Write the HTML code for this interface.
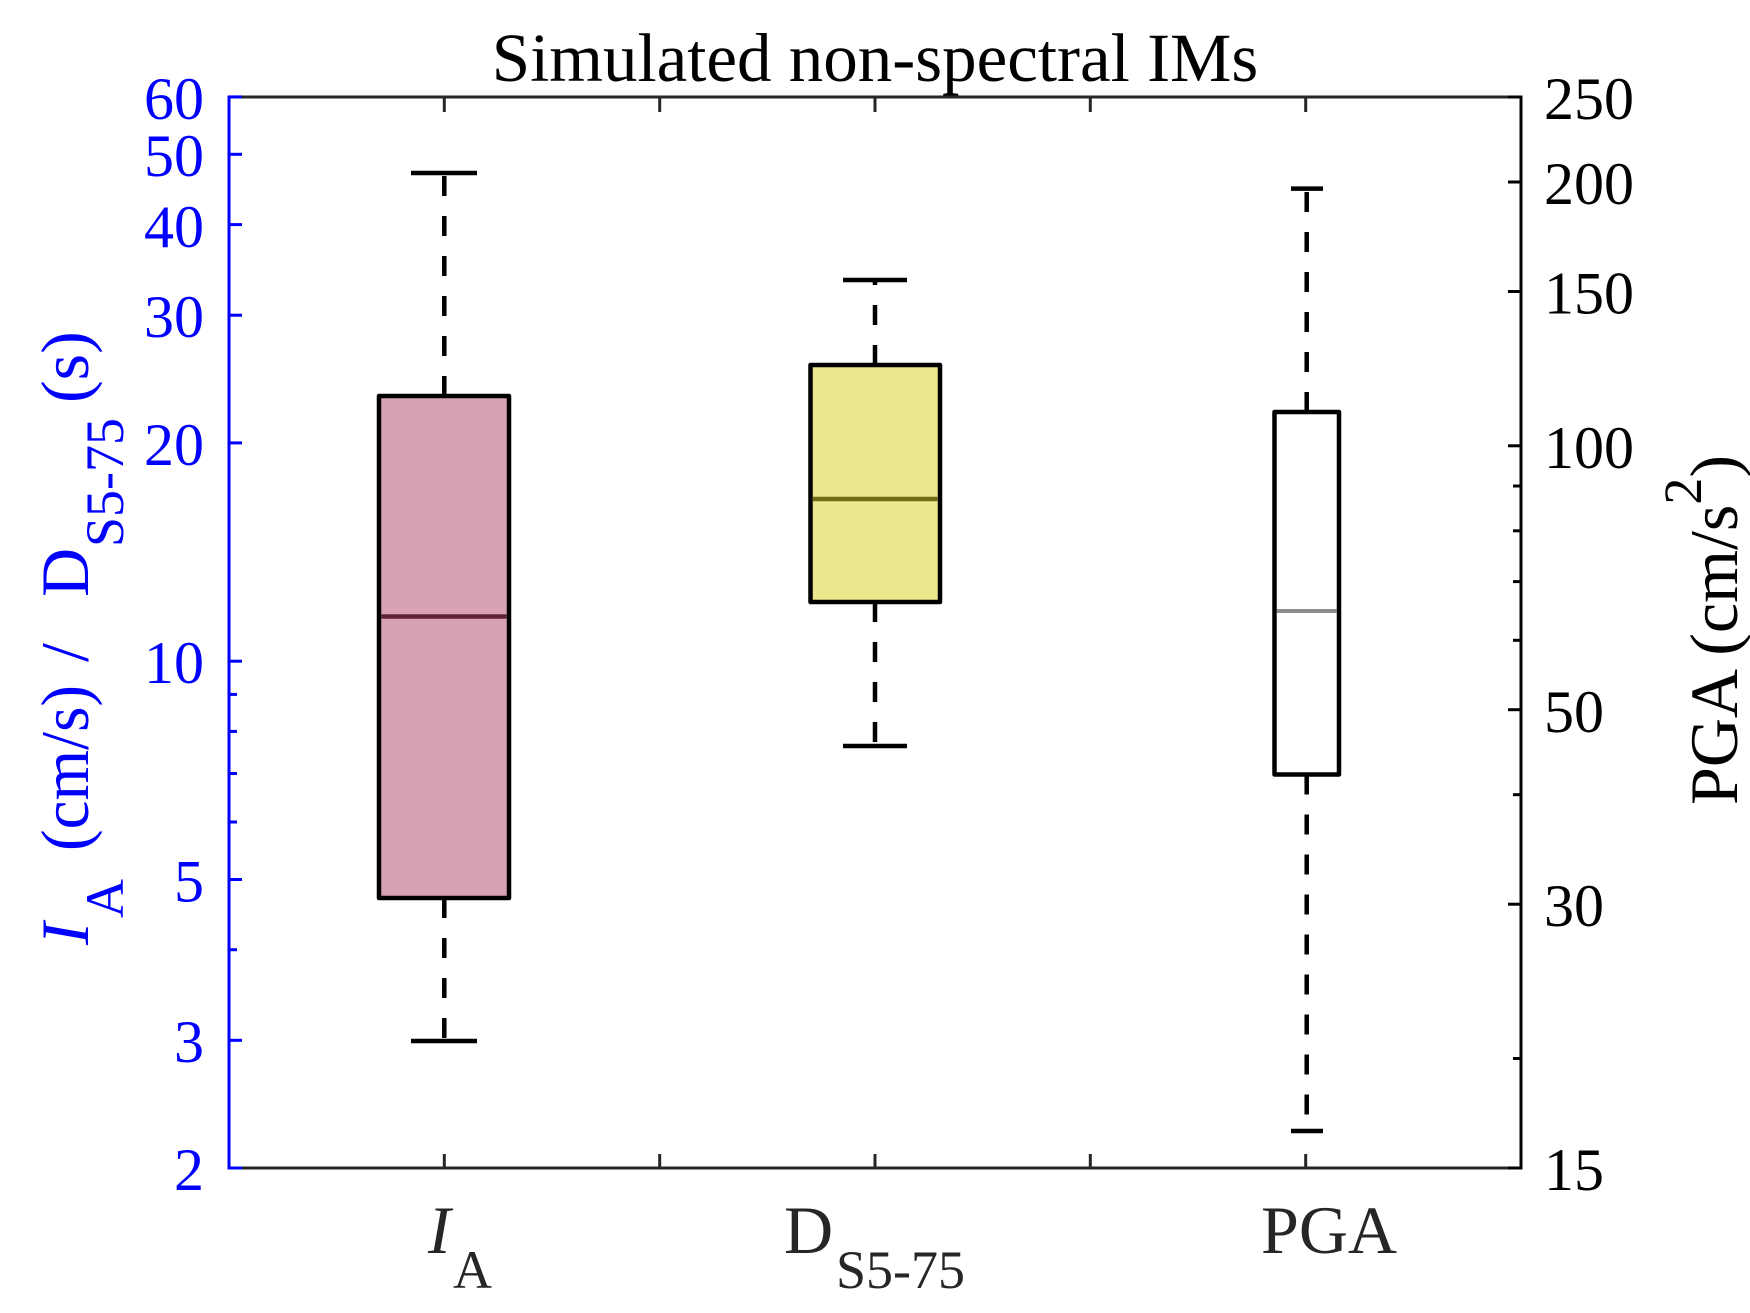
<!DOCTYPE html>
<html>
<head>
<meta charset="utf-8">
<style>
html,body{margin:0;padding:0;background:#fff;}
svg{display:block;}
text{font-family:"Liberation Serif","Times New Roman",serif;}
</style>
</head>
<body>
<svg width="1750" height="1313" viewBox="0 0 1750 1313" xmlns="http://www.w3.org/2000/svg">
<rect x="0" y="0" width="1750" height="1313" fill="#fff"/>

<!-- Title -->
<text x="875" y="81" font-size="69" text-anchor="middle" fill="#000">Simulated non-spectral IMs</text>

<!-- Boxes -->
<g stroke-linejoin="round">
  <!-- IA -->
  <g stroke="#000" stroke-width="4.5" fill="none">
    <line x1="444.3" y1="396" x2="444.3" y2="173" stroke-dasharray="20 20"/>
    <line x1="444.3" y1="898" x2="444.3" y2="1041" stroke-dasharray="20 20"/>
    <line x1="411" y1="173" x2="477" y2="173"/>
    <line x1="411" y1="1041" x2="477" y2="1041"/>
  </g>
  <rect x="379" y="396" width="130" height="502" fill="#d8a2b5" stroke="#000" stroke-width="4.5"/>
  <line x1="381.5" y1="616.5" x2="506.5" y2="616.5" stroke="#5f2139" stroke-width="4.5"/>

  <!-- D -->
  <g stroke="#000" stroke-width="4.5" fill="none">
    <line x1="875" y1="365" x2="875" y2="280" stroke-dasharray="20 20"/>
    <line x1="875" y1="602" x2="875" y2="746" stroke-dasharray="20 20"/>
    <line x1="843" y1="280" x2="907" y2="280"/>
    <line x1="843" y1="746" x2="907" y2="746"/>
  </g>
  <rect x="810.5" y="365" width="129.5" height="237" fill="#ebe78c" stroke="#000" stroke-width="4.5"/>
  <line x1="813" y1="499" x2="937.5" y2="499" stroke="#726b12" stroke-width="4.5"/>

  <!-- PGA -->
  <g stroke="#000" stroke-width="4.5" fill="none">
    <line x1="1306.7" y1="412" x2="1306.7" y2="188.6" stroke-dasharray="20 20"/>
    <line x1="1306.7" y1="774.5" x2="1306.7" y2="1131" stroke-dasharray="20 20"/>
    <line x1="1291" y1="188.6" x2="1323" y2="188.6"/>
    <line x1="1291" y1="1131" x2="1323" y2="1131"/>
  </g>
  <rect x="1274.5" y="412" width="64.5" height="362.5" fill="#fff" stroke="#000" stroke-width="4.5"/>
  <line x1="1277" y1="611" x2="1336.5" y2="611" stroke="#8c8c8c" stroke-width="4"/>
</g>

<!-- Axes lines -->
<line x1="229" y1="97" x2="1521" y2="97" stroke="#262626" stroke-width="3"/>
<line x1="229" y1="1168" x2="1521" y2="1168" stroke="#262626" stroke-width="3"/>
<line x1="1521" y1="95.5" x2="1521" y2="1169.5" stroke="#000" stroke-width="3"/>
<line x1="229" y1="95.5" x2="229" y2="1169.5" stroke="#0000ff" stroke-width="3"/>

<!-- X ticks top and bottom -->
<g stroke="#262626" stroke-width="3">
  <line x1="444.3" y1="97" x2="444.3" y2="112"/>
  <line x1="659.7" y1="97" x2="659.7" y2="112"/>
  <line x1="875" y1="97" x2="875" y2="112"/>
  <line x1="1090.3" y1="97" x2="1090.3" y2="112"/>
  <line x1="1305.7" y1="97" x2="1305.7" y2="112"/>
  <line x1="444.3" y1="1168" x2="444.3" y2="1154"/>
  <line x1="659.7" y1="1168" x2="659.7" y2="1154"/>
  <line x1="875" y1="1168" x2="875" y2="1154"/>
  <line x1="1090.3" y1="1168" x2="1090.3" y2="1154"/>
  <line x1="1305.7" y1="1168" x2="1305.7" y2="1154"/>
</g>

<!-- Left ticks (blue) -->
<g stroke="#0000ff" stroke-width="3">
  <line x1="229" y1="96.9" x2="242" y2="96.9"/>
  <line x1="229" y1="154.3" x2="242" y2="154.3"/>
  <line x1="229" y1="224.6" x2="242" y2="224.6"/>
  <line x1="229" y1="315.2" x2="242" y2="315.2"/>
  <line x1="229" y1="442.9" x2="242" y2="442.9"/>
  <line x1="229" y1="661.2" x2="242" y2="661.2"/>
  <line x1="229" y1="879.5" x2="242" y2="879.5"/>
  <line x1="229" y1="1040.3" x2="242" y2="1040.3"/>
  <line x1="229" y1="1168" x2="242" y2="1168"/>
  <line x1="229" y1="949.7" x2="237" y2="949.7"/>
  <line x1="229" y1="822" x2="237" y2="822"/>
  <line x1="229" y1="773.5" x2="237" y2="773.5"/>
  <line x1="229" y1="731.4" x2="237" y2="731.4"/>
  <line x1="229" y1="694.4" x2="237" y2="694.4"/>
</g>

<!-- Right ticks -->
<g stroke="#000" stroke-width="3">
  <line x1="1521" y1="97" x2="1508" y2="97"/>
  <line x1="1521" y1="182" x2="1508" y2="182"/>
  <line x1="1521" y1="291.5" x2="1508" y2="291.5"/>
  <line x1="1521" y1="445.8" x2="1508" y2="445.8"/>
  <line x1="1521" y1="709.7" x2="1508" y2="709.7"/>
  <line x1="1521" y1="904.2" x2="1508" y2="904.2"/>
  <line x1="1521" y1="1168" x2="1508" y2="1168"/>
  <line x1="1521" y1="1058.5" x2="1513" y2="1058.5"/>
  <line x1="1521" y1="794.7" x2="1513" y2="794.7"/>
  <line x1="1521" y1="640.3" x2="1513" y2="640.3"/>
  <line x1="1521" y1="581.6" x2="1513" y2="581.6"/>
  <line x1="1521" y1="530.8" x2="1513" y2="530.8"/>
  <line x1="1521" y1="486" x2="1513" y2="486"/>
</g>

<!-- Left tick labels -->
<g fill="#0000ff" font-size="60" text-anchor="end">
  <text x="204" y="119">60</text>
  <text x="204" y="176">50</text>
  <text x="204" y="247">40</text>
  <text x="204" y="337">30</text>
  <text x="204" y="465">20</text>
  <text x="204" y="683">10</text>
  <text x="204" y="901.5">5</text>
  <text x="204" y="1062">3</text>
  <text x="204" y="1190">2</text>
</g>

<!-- Right tick labels -->
<g fill="#000" font-size="60" text-anchor="start">
  <text x="1544" y="119">250</text>
  <text x="1544" y="204">200</text>
  <text x="1544" y="313.5">150</text>
  <text x="1544" y="468">100</text>
  <text x="1544" y="732">50</text>
  <text x="1544" y="926">30</text>
  <text x="1544" y="1190">15</text>
</g>

<!-- X tick labels -->
<g fill="#262626">
  <text x="428" y="1253" font-size="68" font-style="italic">I</text>
  <text x="453" y="1288" font-size="54">A</text>
  <text x="784" y="1253" font-size="68">D</text>
  <text x="836" y="1288" font-size="54">S5-75</text>
  <text x="1261" y="1253" font-size="68">PGA</text>
</g>

<!-- Left y label (rotated) -->
<g transform="translate(88,0) rotate(-90)" fill="#0000ff">
  <text x="-945" y="0" font-size="68" font-style="italic">I</text>
  <text x="-918" y="35" font-size="54">A</text>
  <text x="-851" y="0" font-size="68" textLength="166" lengthAdjust="spacingAndGlyphs">(cm/s)</text>
  <text x="-662" y="0" font-size="68">/</text>
  <text x="-597" y="0" font-size="68">D</text>
  <text x="-547" y="35" font-size="54">S5-75</text>
  <text x="-403" y="0" font-size="68">(s)</text>
</g>

<!-- Right y label (rotated) -->
<g transform="translate(1737,630) rotate(-90)" fill="#000">
  <text x="0" y="0" font-size="68" text-anchor="middle">PGA (cm/s<tspan dy="-36" font-size="54">2</tspan><tspan dy="36">)</tspan></text>
</g>
</svg>
</body>
</html>
